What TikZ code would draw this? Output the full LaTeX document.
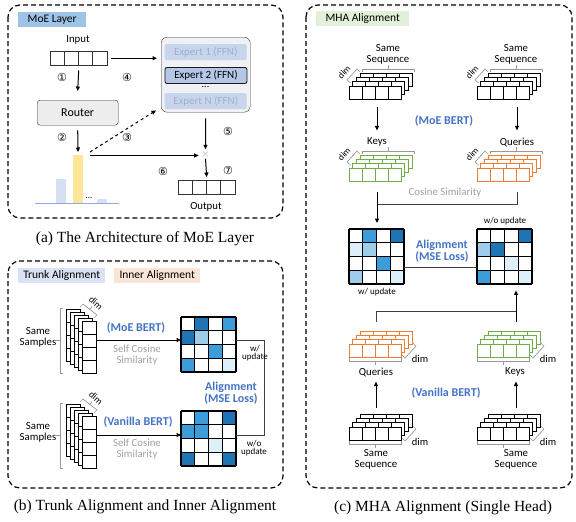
\documentclass[tikz,border=0pt]{standalone}
\usepackage{fontspec}
\setmainfont{Carlito}
\newfontfamily\capfont{Liberation Serif}
\newfontfamily\symfont{DejaVu Sans}
\usetikzlibrary{arrows.meta,calc}
\definecolor{lblA}{HTML}{9DC3E6}
\definecolor{lblB}{HTML}{DAE3F3}
\definecolor{lblC}{HTML}{FBE5D6}
\definecolor{lblD}{HTML}{E2F0D9}
\definecolor{txtblue}{HTML}{4472C4}
\definecolor{txtgray}{HTML}{A0A0A0}
\definecolor{cD}{HTML}{1F74B4}
\definecolor{cM}{HTML}{3C9DDA}
\definecolor{cL}{HTML}{9DCDEB}
\definecolor{cV}{HTML}{DDEFF9}
\definecolor{kgreen}{HTML}{70AD47}
\definecolor{qorange}{HTML}{ED7D31}
\definecolor{expfill}{HTML}{B4C7E7}
\definecolor{expfade}{HTML}{C9D5EC}
\definecolor{expfadetxt}{HTML}{9FB0CC}
\definecolor{boxfill}{HTML}{F0F1F4}
\definecolor{routerfill}{HTML}{EDEDED}
\definecolor{barblue}{HTML}{D6E0F2}
\definecolor{baryellow}{HTML}{FFE699}
\definecolor{baseblue}{HTML}{8FAADC}
\definecolor{crossblue}{HTML}{8FAADC}

% heat matrix: name, x, y (top-left), 16 colours
\newcommand{\heatmat}[4]{%
  \node[draw=none,minimum width=55pt,minimum height=55pt,inner sep=0pt,anchor=north west] (#1) at (#2,#3) {};
  \foreach \cc [count=\n from 0] in {#4} {
    \pgfmathtruncatemacro\rr{div(\n,4)}
    \pgfmathtruncatemacro\kk{mod(\n,4)}
    \fill[\cc] ({#2+13.75*\kk},{#3+13.75*\rr}) rectangle ++(13.75,13.75);
  }
  \foreach \t in {0,1,2,3,4} {
    \draw[line width=1.2pt] ({#2+13.75*\t},#3) -- ++(0,55);
    \draw[line width=1.2pt] (#2,{#3+13.75*\t}) -- ++(55,0);
  }
}
% horizontal stack (panel c): name, x, y (front top-left), colour
\newcommand{\hstk}[4]{%
  \foreach \k in {3,2,1,0} {
    \foreach \i in {0,1,2,3} {
      \draw[draw=#4,fill=white,line width=1pt] ({#2+3.7*\k+13*\i},{#3-4.3*\k}) rectangle ++(13,13);
    }
  }
  \coordinate (#1-s) at ({#2+27},{#3+13});
  \coordinate (#1-n) at ({#2+27},{#3-13});
}
% bracket above + dim on left (top-type)
\newcommand{\topbr}[2]{%
  \draw[gray!80,line width=0.7pt] ({#1+13},{#2-14}) -- ++(0,-3) -- ++(52,0) -- ++(0,3);
  \draw[gray!80,line width=0.7pt] ({#1+39},{#2-17}) -- ++(0,-4);
  \draw[gray!80,line width=0.7pt] ({#1+1.5},{#2-3}) -- ({#1-2},{#2-6}) -- ({#1+8},{#2-17}) -- ({#1+11},{#2-14});
  \node[font=\fontsize{9}{9}\selectfont,inner sep=0pt,rotate=48] at ({#1-5},{#2-14}) {dim};
}
% bracket below + dim on right (bottom-type)
\newcommand{\botbr}[2]{%
  \draw[gray!80,line width=0.7pt] ({#1},{#2+14}) -- ++(0,3) -- ++(52,0) -- ++(0,-3);
  \draw[gray!80,line width=0.7pt] ({#1+26},{#2+17}) -- ++(0,4);
  \draw[gray!80,line width=0.7pt] ({#1+53},{#2+11}) -- ({#1+56},{#2+14}) -- ({#1+67},{#2+2}) -- ({#1+64},{#2-1});
  \node[font=\fontsize{10.5}{10.5}\selectfont,inner sep=0pt] at ({#1+71},{#2+15}) {dim};
}
% vertical stack (panel b): name, x, y (front top-left)
\newcommand{\vstk}[3]{%
  \foreach \k in {4,3,2,1,0} {
    \foreach \i in {0,1,2,3} {
      \draw[fill=white,line width=1pt] ({#2-4*\k},{#3-3*\k+13*\i}) rectangle ++(14,13);
    }
  }
  \coordinate (#1-e) at ({#2+14},{#3+19});
  \draw[gray!80,line width=0.7pt] ({#2-19},{#3-13}) -- ++(-3,0) -- ({#2-22},{#3+52}) -- ++(3,0);
  \draw[gray!80,line width=0.7pt] ({#2-22},{#3+19}) -- ++(-4,0);
  \draw[gray!80,line width=0.7pt] ({#2-2},{#3-14}) -- ({#2+1},{#3-17}) -- ({#2+15},{#3-6}) -- ({#2+12},{#3-3});
  \draw[gray!80,line width=0.7pt] ({#2+8},{#3-11.5}) -- ++(2,-3);
  \node[font=\fontsize{9.5}{9.5}\selectfont,inner sep=0pt,rotate=-42] at ({#2+14},{#3-18}) {dim};
}
% vector of 4 cells
\newcommand{\vecrow}[3]{%
  \node[draw=none,minimum width=57pt,minimum height=14pt,inner sep=0pt,anchor=north west] (#1) at (#2,#3) {};
  \foreach \i in {0,1,2,3} {
    \draw[line width=1pt,draw=black!80] ({#2+14.25*\i},#3) rectangle ++(14.25,14);
  }
}

\begin{document}
\begin{tikzpicture}[x=1pt,y=-1pt,
  lbl/.style={font=\fontsize{10.8}{10.8}\selectfont,inner sep=0pt,align=center},
  sml/.style={font=\fontsize{9}{8.5}\selectfont,inner sep=0pt,align=center},
  btxt/.style={font=\bfseries\fontsize{12}{12}\selectfont,text=txtblue,inner sep=0pt,align=center},
  gtxt/.style={font=\fontsize{10.8}{11}\selectfont,text=txtgray,inner sep=0pt,align=center},
  captxt/.style={font=\capfont\fontsize{15.5}{16}\selectfont,inner sep=0pt},
  num/.style={font=\symfont\fontsize{11}{11}\selectfont,inner sep=0pt},
  panel/.style={dash pattern=on 5pt off 3pt,line width=1.2pt,rounded corners=12pt},
  tag/.style={font=\fontsize{11.5}{11.5}\selectfont,inner sep=0pt,minimum height=15pt,anchor=north west},
  arr/.style={line width=1pt,-{Triangle[length=4.5pt,width=4pt]}},
  ln/.style={line width=1pt,draw=black!75}]
\useasboundingbox (0,0) rectangle (576,522);

% ================= Panel (a) =================
\draw[panel] (8,5) rectangle (283,218);
\node[tag,fill=lblA,minimum width=68pt] (tagA) at (18,12) {MoE Layer};
\node[lbl] (inputtxt) at (78,40) {Input};
\vecrow{inp}{50}{51}
\node[draw=black!80,fill=routerfill,rounded corners=3pt,minimum width=81pt,minimum height=25pt,inner sep=0pt,anchor=north west,font=\fontsize{12}{12}\selectfont] (router) at (37,100) {Router};
\node[draw=black!80,fill=boxfill,rounded corners=6pt,minimum width=89pt,minimum height=75pt,inner sep=0pt,anchor=north west] (experts) at (161,37) {};
\node[fill=expfade,rounded corners=2pt,minimum width=82pt,minimum height=16pt,inner sep=0pt,anchor=north west,text=expfadetxt,font=\fontsize{11}{11}\selectfont] (e1) at (164.5,44) {Expert 1 (FFN)};
\node[draw=black!90,line width=0.9pt,fill=expfill,rounded corners=2pt,minimum width=82pt,minimum height=16pt,inner sep=0pt,anchor=north west,font=\fontsize{11}{11}\selectfont] (e2) at (164.5,67) {Expert 2 (FFN)};
\node[lbl,font=\fontsize{10}{10}\selectfont] (edots) at (205.5,87) {...};
\node[fill=expfade,rounded corners=2pt,minimum width=82pt,minimum height=16pt,inner sep=0pt,anchor=north west,text=expfadetxt,font=\fontsize{11}{11}\selectfont] (eN) at (164.5,93) {Expert N (FFN)};
% bars
\fill[barblue] (56,179) rectangle (66,203);
\fill[baryellow] (73,155) rectangle (83,203);
\fill[barblue] (97,199) rectangle (107,203);
\node[lbl,font=\fontsize{9}{9}\selectfont] (bdots) at (89,198) {...};
\draw[baseblue,line width=0.9pt] (35,203.5) -- (119,203.5);
\coordinate (bartop) at (78,155);
\node[font=\bfseries\fontsize{13}{13}\selectfont,text=crossblue,inner sep=0pt] (cross) at (205.5,154.5) {$\times$};
\vecrow{outp}{178}{180}
\node[lbl] (outtxt) at (206,207) {Output};
% arrows
\draw[arr] (inp.south) ++(0,5) -- ($(router.north)+(0,-9)$);
\draw[arr] ($(inp.east)+(4,0)$) -- ($(experts.west |- inp.east)+(-4,0)$);
\draw[arr] ($(router.south)+(0,5)$) -- ($(bartop)+(0,-3)$);
\draw[arr,dashed] (90,152) -- ($(experts.south west)+(-5,-2)$);
\draw[arr] (90,155.5) -- ($(cross.west)+(-2,1)$);
\draw[arr] ($(experts.south)+(0,6)$) -- ($(cross.north)+(0,-1)$);
\draw[arr] ($(cross.south)+(0,0)$) -- ($(outp.north)+(0,-3)$);
\node[num] (n1) at (62,77) {①};
\node[num] (n2) at (62,137) {②};
\node[num] (n3) at (127,137) {③};
\node[num] (n4) at (127,77) {④};
\node[num] (n5) at (228,131) {⑤};
\node[num] (n6) at (163,171) {⑥};
\node[num] (n7) at (228,170) {⑦};
\node[captxt] (capA) at (145,239) {(a) The Architecture of MoE Layer};

% ================= Panel (b) =================
\draw[panel] (8,261) rectangle (283,488);
\node[tag,fill=lblB,minimum width=87pt] (tagB) at (18,268) {Trunk Alignment};
\node[tag,fill=lblC,minimum width=86pt] (tagC) at (114,268) {Inner Alignment};
\vstk{s1}{82}{321}
\vstk{s2}{82}{416}
\node[lbl] (ss1) at (38,337) {Same\\Samples};
\node[lbl] (ss2) at (38,432) {Same\\Samples};
\heatmat{m1}{181}{317}{white,cD,white,cM, cD,cL,white,white, white,white,cM,white, cM,white,white,cV}
\heatmat{m2}{181}{411}{white,cM,white,cD, cM,cM,white,white, white,white,cV,white, cD,white,white,cD}
\draw[arr] (s1-e) -- (s1-e -| m1.west);
\draw[arr] (s2-e) -- (s2-e -| m2.west);
\node[btxt] (moe1) at (136,328) {(MoE BERT)};
\node[gtxt] (scs1) at (137,355) {Self Cosine\\Similarity};
\node[btxt] (van1) at (138,422) {(Vanilla BERT)};
\node[gtxt] (scs2) at (137,449) {Self Cosine\\Similarity};
\draw[ln] (s1-e -| m1.east) -- ++(28,0) |- (s2-e -| m2.east);
\node[sml] (wu1) at (255,353) {w/\\update};
\node[sml] (wou1) at (254,448) {w/o\\update};
\node[btxt] (al1) at (231,393) {Alignment\\(MSE Loss)};
\node[captxt] (capB) at (145,507) {(b) Trunk Alignment and Inner Alignment};

% ================= Panel (c) =================
\draw[panel] (306,5) rectangle (572,488);
\node[tag,fill=lblD,minimum width=93pt] (tagD) at (316,11) {MHA Alignment};
% top stacks
\hstk{t1}{349}{86}{black}
\hstk{t2}{477}{86}{black}
\topbr{349}{86}
\topbr{477}{86}
\node[lbl] (sq1) at (388,54) {Same\\Sequence};
\node[lbl] (sq2) at (516,54) {Same\\Sequence};
\node[btxt] (moe2) at (444,121) {(MoE BERT)};
\node[lbl] (keys1) at (377,142) {Keys};
\node[lbl] (qry1) at (517,142) {Queries};
\draw[arr] ($(keys1.north |- t1-s)+(0,8)$) -- ($(keys1.north)+(0,-7)$);
\draw[arr] ($(qry1.north |- t2-s)+(0,8)$) -- ($(qry1.north)+(0,-7)$);
\hstk{g1}{349}{168}{kgreen}
\hstk{o1}{477}{168}{qorange}
\topbr{349}{168}
\topbr{477}{168}
\node[gtxt] (cs1) at (445,193) {Cosine Similarity};
\heatmat{mL}{349}{229}{white,cM,white,cD, cV,cL,white,white, white,white,cM,white, cL,white,white,cV}
\heatmat{mR}{477}{229}{white,white,white,cD, cL,cD,white,white, white,white,cV,white, cM,white,white,cV}
\draw[ln] ($(qry1.south |- o1-s)+(0,11)$) |- ($(keys1.south |- g1-s)+(0,23)$);
\draw[arr] ($(keys1.south |- g1-s)+(0,11)$) -- ($(keys1.south |- mL.north)+(0,-6)$);
\draw[ln] ($(mL.east)+(0,11)$) -- ($(mR.west)+(0,11)$);
\node[btxt] (al2) at (442,251) {Alignment\\(MSE Loss)};
\node[sml] (wou2) at (505,221) {w/o update};
\node[sml] (wu2) at (377,292) {w/ update};
% bottom stacks
\hstk{o2}{349}{344}{qorange}
\hstk{g2}{477}{344}{kgreen}
\botbr{349}{344}
\botbr{477}{344}
\node[lbl] (qry2) at (376,372) {Queries};
\node[lbl] (keys2) at (515,372) {Keys};
\draw[ln] ($(qry2.north |- o2-n)+(0,-9)$) |- ($(keys2.north |- g2-n)+(1,-20)$);
\draw[arr] ($(keys2.north |- g2-n)+(1,-9)$) -- ($(keys2.north |- mR.south)+(1,6)$);
\node[btxt] (van2) at (446,393) {(Vanilla BERT)};
\hstk{b1}{349}{427}{black}
\hstk{b2}{477}{427}{black}
\botbr{349}{427}
\botbr{477}{427}
\draw[arr] ($(qry2.south |- b1-n)+(0,-6)$) -- ($(qry2.south)+(0,5)$);
\draw[arr] ($(keys2.south |- b2-n)+(1,-6)$) -- ($(keys2.south)+(1,5)$);
\node[lbl] (sq3) at (376,459) {Same\\Sequence};
\node[lbl] (sq4) at (516,459) {Same\\Sequence};
\node[captxt] (capC) at (443,508) {(c) MHA Alignment (Single Head)};
\end{tikzpicture}
\end{document}
